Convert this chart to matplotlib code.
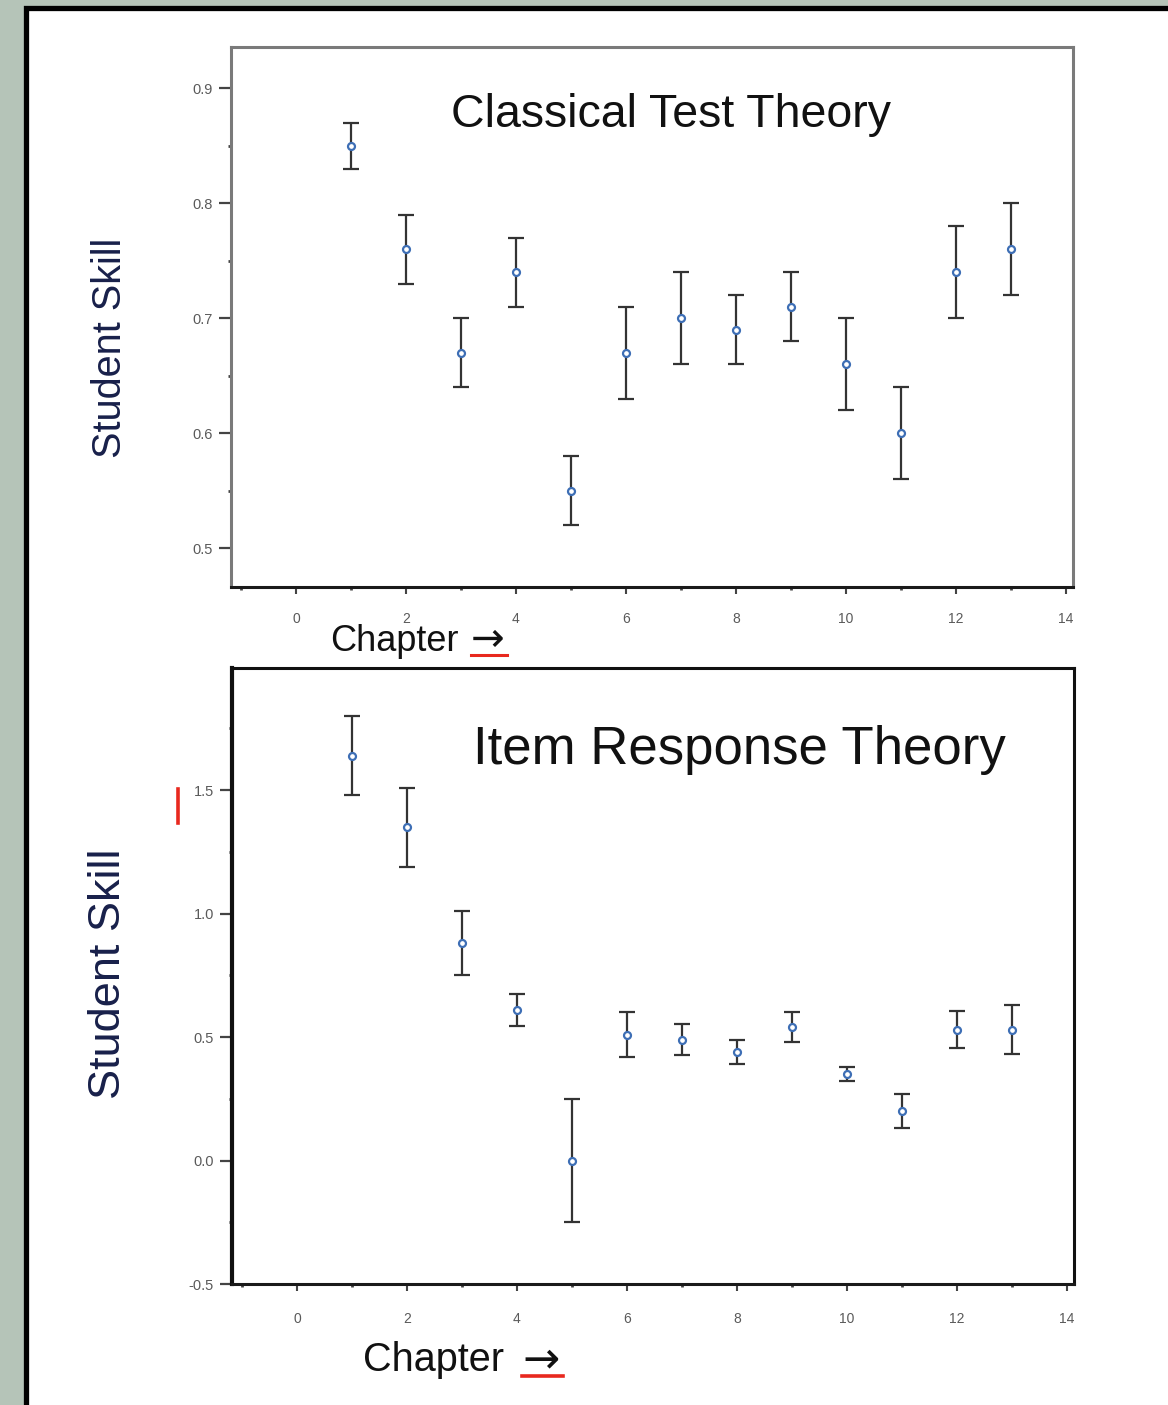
import matplotlib
matplotlib.use("Agg")
import matplotlib.pyplot as plt
from matplotlib.ticker import MultipleLocator, FormatStrFormatter
from matplotlib.patches import Rectangle
from matplotlib.lines import Line2D

plt.rcParams['font.family'] = ['Liberation Sans', 'DejaVu Sans']
plt.rcParams['axes.unicode_minus'] = False

# ---- data ----
chapters = [1, 2, 3, 4, 5, 6, 7, 8, 9, 10, 11, 12, 13]
ctt_skill = [0.85, 0.76, 0.67, 0.74, 0.55, 0.67, 0.70, 0.69, 0.71, 0.66, 0.60, 0.74, 0.76]
ctt_err = [0.02, 0.03, 0.03, 0.03, 0.03, 0.04, 0.04, 0.03, 0.03, 0.04, 0.04, 0.04, 0.04]
irt_skill = [1.64, 1.35, 0.88, 0.61, 0.00, 0.51, 0.49, 0.44, 0.54, 0.35, 0.20, 0.53, 0.53]
irt_err = [0.16, 0.16, 0.13, 0.063, 0.25, 0.09, 0.063, 0.05, 0.06, 0.027, 0.07, 0.075, 0.10]
xticks_major = [0, 2, 4, 6, 8, 10, 12, 14]

W, H = 1168, 1405
fig = plt.figure(figsize=(W / 100, H / 100), dpi=100)
fig.patch.set_facecolor('#b5c4b8')

def fx(px):
    return px / W

def fy(py):
    return 1 - py / H

# white slide with black border
fig.add_artist(Rectangle((fx(25.5), -0.2), 1.5, fy(8.5) + 0.2, transform=fig.transFigure,
                         facecolor='white', edgecolor='black', linewidth=3.8, zorder=0))

def make_axes(box, ylim, ymaj, ymin, spine_col, spine_w, left_w):
    l, t, r, b = box
    ax = fig.add_axes([fx(l), fy(b), fx(r - l), (b - t) / H])
    ax.set_facecolor('white')
    ax.set_xlim(-1.18, 14.13)
    ax.set_ylim(*ylim)
    for s in ['top', 'right']:
        ax.spines[s].set_color(spine_col)
        ax.spines[s].set_linewidth(spine_w)
    ax.spines['left'].set_color(spine_col)
    ax.spines['left'].set_linewidth(left_w)
    ax.spines['bottom'].set_color('#1a1a1a')
    ax.spines['bottom'].set_linewidth(2.2)
    ax.set_xticks(xticks_major)
    ax.xaxis.set_minor_locator(MultipleLocator(1))
    ax.yaxis.set_major_locator(MultipleLocator(ymaj))
    ax.yaxis.set_minor_locator(MultipleLocator(ymin))
    ax.yaxis.set_major_formatter(FormatStrFormatter('%.1f'))
    ax.tick_params(axis='y', which='major', direction='out', length=9, width=1.6,
                   color='#444444', labelsize=10.5, labelcolor='#5a5a5a', pad=4)
    ax.tick_params(axis='y', which='minor', direction='out', length=2.5, width=2,
                   color='#444444')
    ax.tick_params(axis='x', which='major', direction='out', length=5, width=1.5,
                   color='#444444', labelsize=10, labelcolor='#5a5a5a', pad=13)
    ax.tick_params(axis='x', which='minor', direction='out', length=2.5, width=2,
                   color='#444444')
    return ax

def draw_points(ax, y, e):
    ax.errorbar(chapters, y, yerr=e, fmt='o', color='#3d6eb5', ecolor='#333333',
                elinewidth=1.6, capsize=6, capthick=1.6, markersize=5,
                markerfacecolor='white', markeredgecolor='#3d6eb5',
                markeredgewidth=1.6, zorder=3)

# ---- top: Classical Test Theory ----
ax1 = make_axes((231, 47, 1073, 587), (0.4661, 0.9357), 0.1, 0.05, '#7a7a7a', 2.2, 2.2)
draw_points(ax1, ctt_skill, ctt_err)

# ---- bottom: Item Response Theory ----
ax2 = make_axes((232, 668, 1074, 1284), (-0.5, 1.995), 0.5, 0.25, '#111111', 2.2, 3.0)
ax2.tick_params(axis='x', which='major', pad=15)
draw_points(ax2, irt_skill, irt_err)

# titles
fig.text(fx(671), fy(127), 'Classical Test Theory', ha='center', va='baseline',
         fontsize=33.5, color='#111111')
fig.text(fx(739), fy(764), 'Item Response Theory', ha='center', va='baseline',
         fontsize=38, color='#111111')

# y labels
fig.text(fx(110), fy(348), 'Student Skill', rotation=90, ha='center', va='center',
         fontsize=28.5, color='#18204a')
fig.text(fx(108), fy(974), 'Student Skill', rotation=90, ha='center', va='center',
         fontsize=32.5, color='#18204a')

# x labels
fig.text(fx(330), fy(651), 'Chapter', ha='left', va='baseline',
         fontsize=26, color='#111111')
fig.text(fx(488), fy(651), '\u2192', ha='center', va='baseline',
         fontsize=29, color='#111111', family='DejaVu Sans')
fig.text(fx(363), fy(1371), 'Chapter', ha='left', va='baseline',
         fontsize=28.5, color='#111111')
fig.text(fx(541), fy(1372), '\u2192', ha='center', va='baseline',
         fontsize=32, color='#111111', family='DejaVu Sans')

# red editing marks
red = '#e8281e'
fig.add_artist(Line2D([fx(471), fx(507)], [fy(655), fy(655)], color=red, linewidth=2.2))
fig.add_artist(Line2D([fx(522), fx(563)], [fy(1376), fy(1376)], color=red, linewidth=2.6))
fig.add_artist(Line2D([fx(178), fx(178)], [fy(789), fy(823)], color=red, linewidth=2.6))

fig.savefig('out.png', dpi=100, facecolor=fig.get_facecolor())
